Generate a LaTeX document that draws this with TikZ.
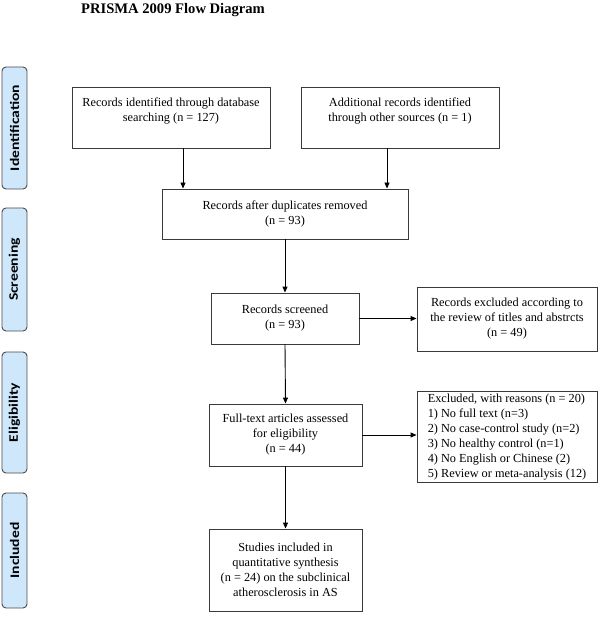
\documentclass[tikz,border=0pt]{standalone}
\usepackage{fontspec}
\setmainfont{Liberation Serif}
\newfontfamily\sidefont{Carlito}
\usetikzlibrary{arrows.meta}
\definecolor{sideblue}{HTML}{CFE7FA}
\definecolor{sideedge}{HTML}{4A4A4A}
\definecolor{boxedge}{HTML}{3A3A3A}
\newcommand{\sidetext}[1]{\rotatebox{90}{\scalebox{1.2}[1]{#1}}}
\tikzset{
  flowbox/.style={draw=boxedge, line width=0.9pt, rectangle, align=center,
    inner sep=2pt, font=\fontsize{12.3}{15}\selectfont},
  sidebox/.style={draw=sideedge, fill=sideblue, line width=0.9pt, rounded corners=4pt,
    minimum width=25pt, inner sep=1pt, font=\sidefont\bfseries\fontsize{13}{15}\selectfont},
  arr/.style={draw=black, line width=0.9pt, -{Triangle[length=6pt,width=5pt]}}
}
\begin{document}
\begin{tikzpicture}[x=1pt,y=-1pt]
\useasboundingbox (0,0) rectangle (600,617);
\node[font=\bfseries\fontsize{14.6}{17}\selectfont] (title) at (173,10) {PRISMA 2009 Flow Diagram};

% side labels
\node[sidebox, minimum height=122pt] (sid) at (14.5,128) {\sidetext{Identification}};
\node[sidebox, minimum height=123pt] (sscr) at (14.5,269.5) {\sidetext{Screening}};
\node[sidebox, minimum height=121pt] (selig) at (14.5,412.5) {\sidetext{Eligibility}};
\node[sidebox, minimum height=115pt] (sinc) at (14.5,550.5) {\sidetext{Included}};

% boxes
\node[flowbox, minimum width=198pt, minimum height=61pt] (b1) at (171,117.5)
  {Records identified through database\\ searching (n = 127)\\ \mbox{}};
\node[flowbox, minimum width=198pt, minimum height=61pt] (b2) at (400,117.5)
  {Additional records identified\\ through other sources (n = 1)\\ \mbox{}};
\node[flowbox, minimum width=246pt, minimum height=50pt] (b3) at (285,214)
  {Records after duplicates removed\\ (n = 93)};
\node[flowbox, minimum width=148pt, minimum height=51pt] (b4) at (285,318.5)
  {Records screened\\ (n = 93)};
\node[flowbox, minimum width=180pt, minimum height=64pt] (b5) at (507,319)
  {Records excluded according to\\ the review of titles and abstrcts\\ (n = 49)};
\node[flowbox, minimum width=153pt, minimum height=62pt] (b6) at (285.5,435)
  {Full-text articles assessed\\ for eligibility\\ (n = 44)};
\node[flowbox, minimum width=180pt, minimum height=86pt, align=left] (b7) at (507,437)
  {Excluded, with reasons (n = 20)\\ 1) No full text (n=3)\\ 2) No case-control study (n=2)\\ 3) No healthy control (n=1)\\ 4) No English or Chinese (2)\\ 5) Review or meta-analysis (12)};
\node[flowbox, minimum width=153pt, minimum height=82pt] (b8) at (285.5,570)
  {Studies included in\\ quantitative synthesis\\ (n = 24) on the subclinical\\ atherosclerosis in AS};

% arrows
\coordinate (c1) at (183,0);
\coordinate (c2) at (387,0);
\draw[arr] (c1 |- b1.south) -- (c1 |- b3.north);
\draw[arr] (c2 |- b2.south) -- (c2 |- b3.north);
\draw[arr] (b3.south) -- (b4.north);
\draw[arr] (b4.east) -- (b4.east -| b5.west);
\draw[arr] (b4.south) -- (b6.north);
\draw[arr] (b6.east) -- (b6.east -| b7.west);
\draw[arr] (b6.south) -- (b8.north);
\end{tikzpicture}
\end{document}
